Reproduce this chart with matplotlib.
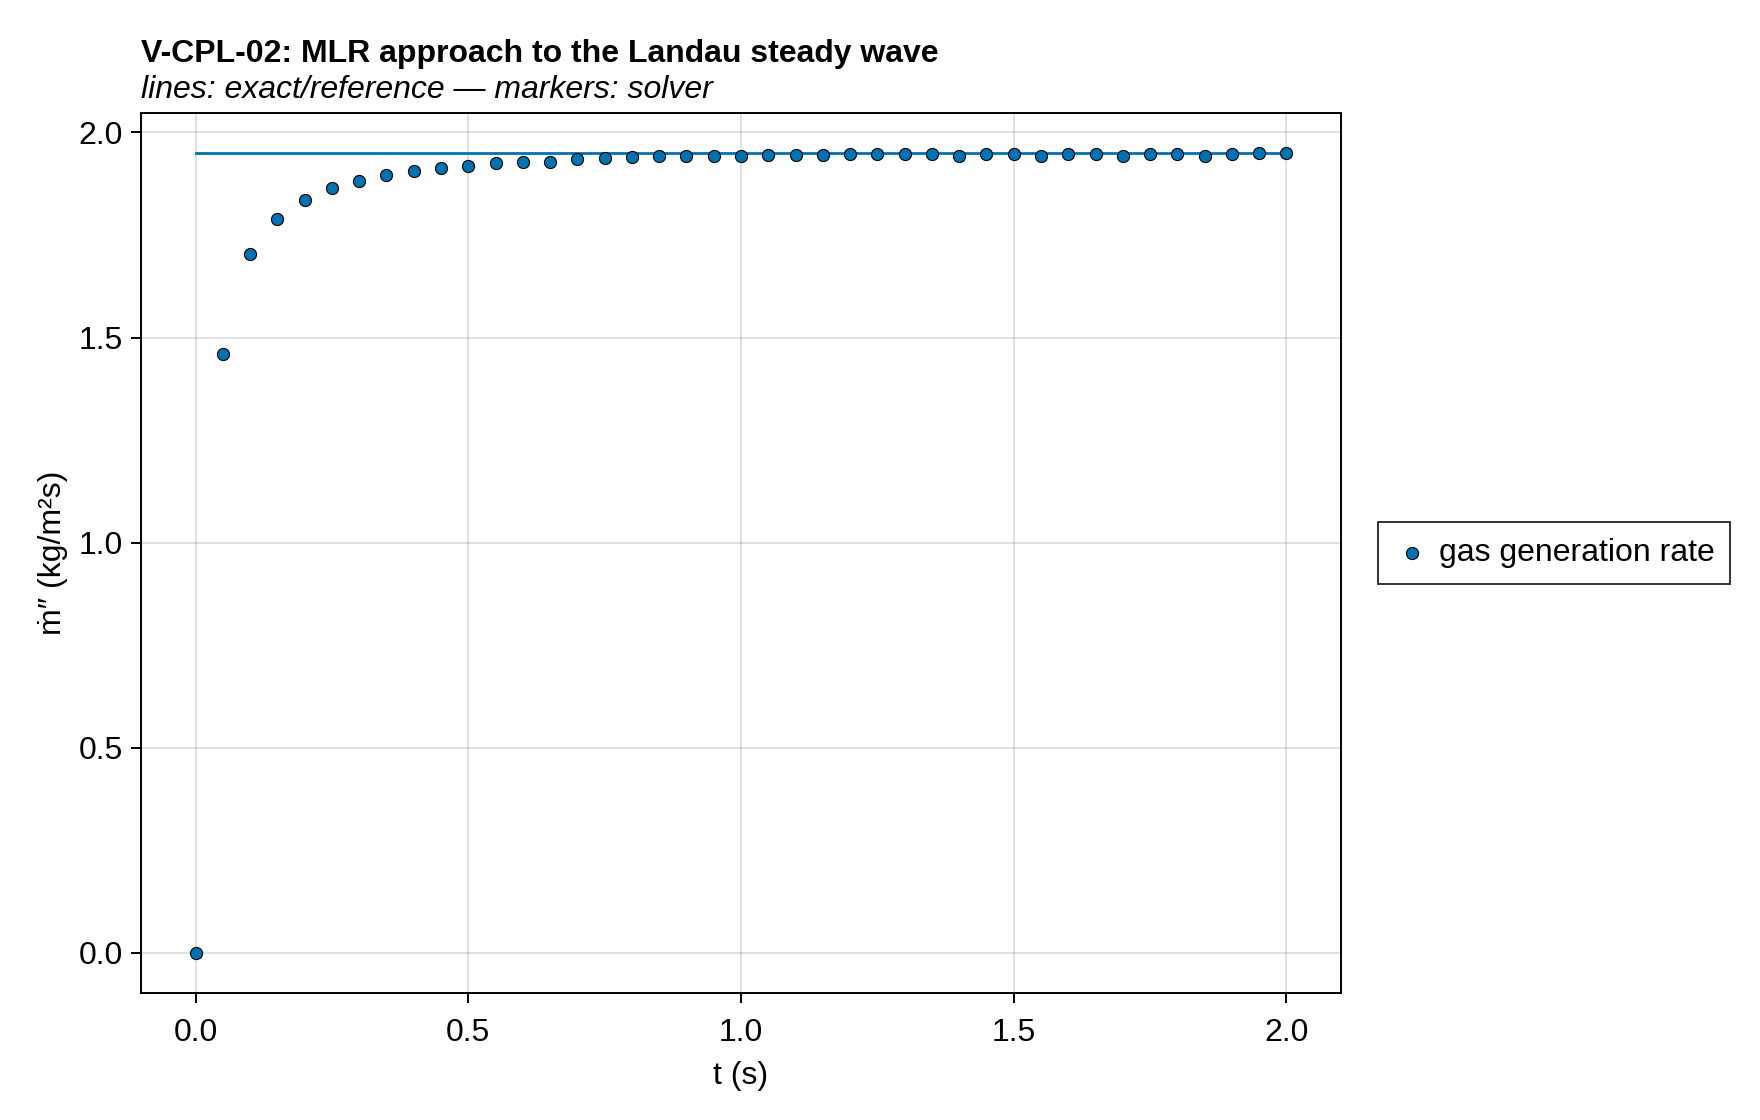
"""V-CPL-02: mass loss rate approaching the Landau steady-wave value."""

import matplotlib
matplotlib.use("Agg")
import matplotlib.pyplot as plt

plt.rcParams["font.family"] = ["Liberation Sans", "DejaVu Sans"]

# ── Data ──────────────────────────────────────────────────────────────────────
t_solver = [0.00, 0.05, 0.10, 0.15, 0.20, 0.25, 0.30, 0.35, 0.40, 0.45,
            0.50, 0.55, 0.60, 0.65, 0.70, 0.75, 0.80, 0.85, 0.90, 0.95,
            1.00, 1.05, 1.10, 1.15, 1.20, 1.25, 1.30, 1.35, 1.40, 1.45,
            1.50, 1.55, 1.60, 1.65, 1.70, 1.75, 1.80, 1.85, 1.90, 1.95,
            2.00]
mdot_solver = [0.000, 1.460, 1.705, 1.790, 1.836, 1.864, 1.881, 1.896, 1.907, 1.914,
               1.918, 1.926, 1.929, 1.929, 1.935, 1.938, 1.940, 1.942, 1.943, 1.943,
               1.943, 1.946, 1.946, 1.946, 1.948, 1.948, 1.948, 1.948, 1.942, 1.948,
               1.948, 1.943, 1.948, 1.948, 1.942, 1.948, 1.948, 1.942, 1.948, 1.949,
               1.949]

t_exact = [0.0, 2.0]
mdot_exact = [1.95, 1.95]

x_ticks = [0.0, 0.5, 1.0, 1.5, 2.0]
y_ticks = [0.0, 0.5, 1.0, 1.5, 2.0]

BLUE = "#0072B2"
FS = 23

# ── Figure ────────────────────────────────────────────────────────────────────
fig = plt.figure(figsize=(17.6, 11.2), dpi=100)
ax = fig.add_axes([141 / 1760, 1 - 993 / 1120, 1200 / 1760, 880 / 1120])

ax.plot(t_exact, mdot_exact, color=BLUE, linewidth=2.0, zorder=2)
sc = ax.scatter(t_solver, mdot_solver, s=76, color=BLUE, edgecolors="black",
                linewidths=0.8, zorder=3, label="gas generation rate")

ax.set_xlim(-0.1, 2.1)
ax.set_ylim(-0.0975, 2.0475)
ax.set_xticks(x_ticks)
ax.set_yticks(y_ticks)
ax.set_xticklabels([f"{v:.1f}" for v in x_ticks])
ax.set_yticklabels([f"{v:.1f}" for v in y_ticks])

ax.grid(True, color="black", alpha=0.12, linewidth=1.4)
ax.set_axisbelow(True)
for sp in ax.spines.values():
    sp.set_linewidth(1.4)
ax.tick_params(direction="out", length=7.2, width=1.4, labelsize=FS, pad=6)
ax.tick_params(axis="x", pad=10.5)

ax.set_xlabel("t (s)", fontsize=FS, labelpad=10)
ax.set_ylabel("ṁ″ (kg/m²s)", fontsize=FS, labelpad=7.5)

fig.text(141 / 1760, 1 - 62 / 1120, "V-CPL-02: MLR approach to the Landau steady wave",
         fontsize=23, fontweight="bold", ha="left", va="baseline")
fig.text(141 / 1760, 1 - 98 / 1120, "lines: exact/reference — markers: solver",
         fontsize=FS, fontstyle="italic", ha="left", va="baseline")

leg = ax.legend(handles=[sc], loc="center left",
                bbox_to_anchor=(1378 / 1760, 1 - 553 / 1120),
                bbox_transform=fig.transFigure, borderaxespad=0,
                fontsize=FS, frameon=True, fancybox=False,
                handletextpad=0.3, borderpad=0.5, handlelength=1.1,
                scatterpoints=1, markerscale=1.0)
leg.get_frame().set_edgecolor("black")
leg.get_frame().set_linewidth(1.4)

fig.savefig("out.png", dpi=100)
